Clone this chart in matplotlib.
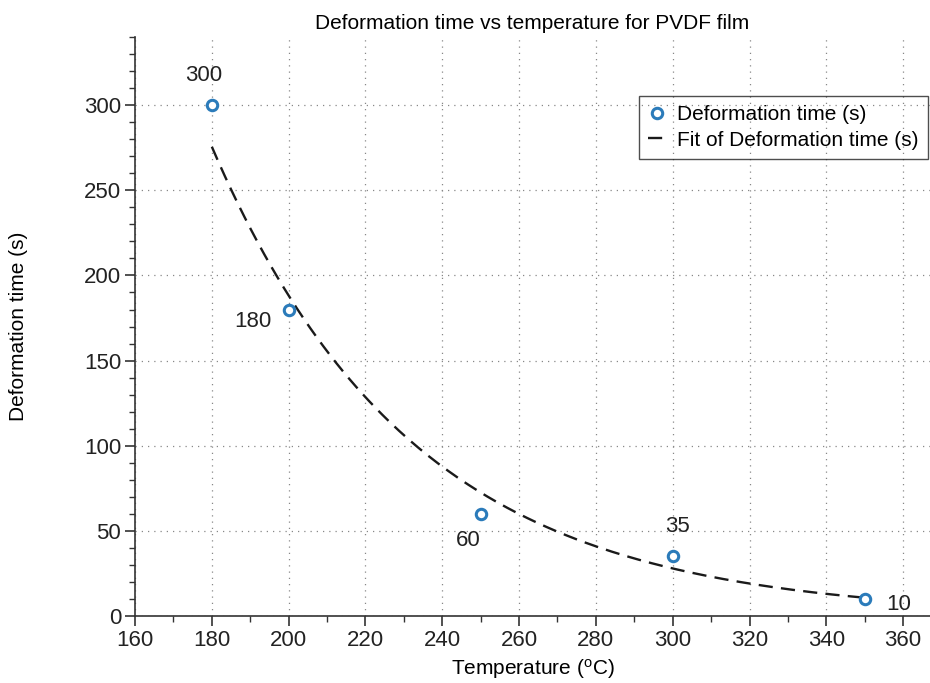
import matplotlib
matplotlib.use("Agg")
import matplotlib.pyplot as plt
import numpy as np
from matplotlib.ticker import MultipleLocator

plt.rcParams['font.family'] = ['Liberation Sans', 'DejaVu Sans']

# data
temperature = np.array([180, 200, 250, 300, 350])
deform_time = np.array([300, 180, 60, 35, 10])
point_labels = ["300", "180", "60", "35", "10"]
label_offsets = [(-8, 30), (-36, -12), (-12, -27), (5, 30), (34, -5)]  # pixels

# exponential fit (linear fit of log values)
slope, intercept = np.polyfit(temperature, np.log(deform_time), 1)
x_fit = np.linspace(temperature.min(), temperature.max(), 200)
y_fit = np.exp(intercept + slope * x_fit)

fig = plt.figure(figsize=(9.3, 6.83), dpi=100)
ax = fig.add_axes([0.1452, 0.098, 0.8548, 0.8478])

ax.plot(temperature, deform_time, 'o', mfc='white', mec='#2b7bba', mew=2.2,
        ms=7.5, linestyle='none', label='Deformation time (s)', zorder=3)
ax.plot(x_fit, y_fit, '--', color='#1a1a1a', lw=1.7, dashes=(6, 3.5),
        label='Fit of Deformation time (s)', zorder=2)

for xv, yv, txt, off in zip(temperature, deform_time, point_labels, label_offsets):
    ax.annotate(txt, xy=(xv, yv), xytext=off, textcoords='offset pixels',
                ha='center', va='center', fontsize=16, color='#222222')

ax.set_xlim(160, 367)
ax.set_ylim(0, 340)
ax.xaxis.set_major_locator(MultipleLocator(20))
ax.xaxis.set_minor_locator(MultipleLocator(10))
ax.yaxis.set_major_locator(MultipleLocator(50))
ax.yaxis.set_minor_locator(MultipleLocator(10))

for side in ['top', 'right']:
    ax.spines[side].set_visible(False)
for side in ['left', 'bottom']:
    ax.spines[side].set_linewidth(1.2)
    ax.spines[side].set_color('#333333')

ax.tick_params(which='major', direction='out', length=7, width=1.2, colors='#333333',
               labelsize=16, labelcolor='#222222', pad=3)
ax.tick_params(which='minor', direction='out', length=4, width=1.0, colors='#333333')

ax.grid(True, which='major', linestyle=(0, (1, 4)), color='#888888', linewidth=0.9)

ax.set_title('Deformation time vs temperature for PVDF film', fontsize=15, pad=6)
ax.set_xlabel('Temperature ($\\mathregular{^{o}}$C)', fontsize=15, labelpad=4)
ax.set_ylabel('Deformation time (s)', fontsize=15, labelpad=40)

leg = ax.legend(loc='upper right', bbox_to_anchor=(0.9975, 0.898), fontsize=15,
                handlelength=0.9, handletextpad=0.5, borderpad=0.45, labelspacing=0.3,
                borderaxespad=0, fancybox=False, facecolor='none', edgecolor='#222222')
leg.get_frame().set_linewidth(1.0)

fig.savefig('out.png', dpi=100)
